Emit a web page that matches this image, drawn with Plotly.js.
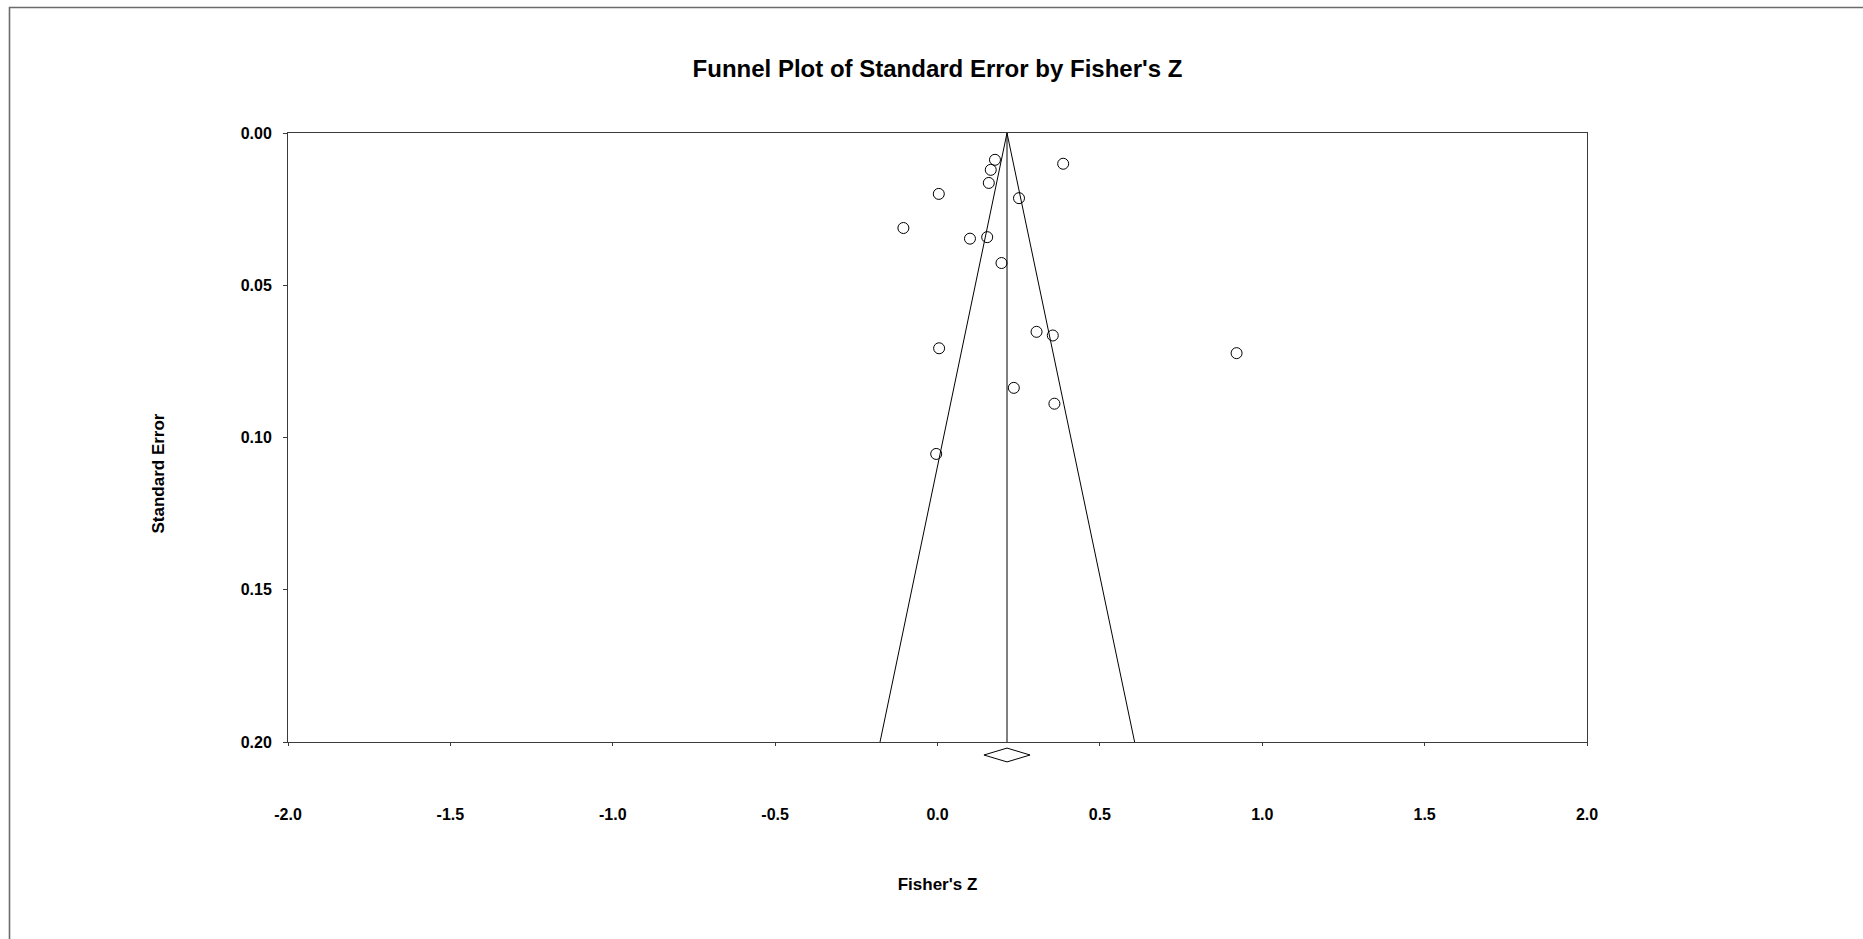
<!DOCTYPE html>
<html>
<head>
<meta charset="utf-8">
<script src="https://cdn.plot.ly/plotly-3.0.1.min.js"></script>
<style>
  html, body { margin: 0; padding: 0; background: #ffffff; }
  #chart { width: 1863px; height: 939px; }
</style>
</head>
<body>
<div id="chart"></div>
<script>
// Study effects (Fisher's Z) and their standard errors
const fisherZ = [0.177, 0.387, 0.164, 0.158, 0.004, 0.251, -0.105, 0.100, 0.153, 0.197, 0.305, 0.355, 0.005, 0.921, 0.235, 0.360, -0.004];
const stdErr  = [0.0088, 0.0101, 0.0121, 0.0164, 0.0200, 0.0214, 0.0312, 0.0347, 0.0342, 0.0427, 0.0653, 0.0665, 0.0707, 0.0723, 0.0837, 0.0889, 0.1054];

// Summary effect and its confidence interval (diamond)
const summaryZ = 0.214;
const summaryLow = 0.143;
const summaryHigh = 0.285;

// Funnel (pseudo 95% limits) end points at SE = 0 and SE = 0.20
const funnelX = [-0.177, 0.214, 0.607];
const funnelY = [0.20, 0.00, 0.20];

// Axis ticks
const xTicks = [-2.0, -1.5, -1.0, -0.5, 0.0, 0.5, 1.0, 1.5, 2.0];
const xTickLabels = ['-2.0', '-1.5', '-1.0', '-0.5', '0.0', '0.5', '1.0', '1.5', '2.0'];
const yTicks = [0.00, 0.05, 0.10, 0.15, 0.20];
const yTickLabels = ['0.00', '0.05', '0.10', '0.15', '0.20'];

const FONT = 'Liberation Sans, Arial, Helvetica, sans-serif';
const INK = '#000000';
const AXIS = '#3a3a3a';

const traces = [
  {
    type: 'scatter', mode: 'lines', x: funnelX, y: funnelY,
    xaxis: 'x', yaxis: 'y',
    line: { color: INK, width: 1 }, hoverinfo: 'skip', showlegend: false
  },
  {
    type: 'scatter', mode: 'lines', x: [summaryZ, summaryZ], y: [yTicks[0], yTicks[yTicks.length - 1]],
    xaxis: 'x', yaxis: 'y',
    line: { color: INK, width: 1 }, hoverinfo: 'skip', showlegend: false
  },
  {
    type: 'scatter', mode: 'markers', x: fisherZ, y: stdErr,
    xaxis: 'x', yaxis: 'y',
    marker: { symbol: 'circle', size: 11, color: 'rgba(0,0,0,0)', line: { color: INK, width: 1 } },
    cliponaxis: false, showlegend: false
  },
  {
    type: 'scatter', mode: 'lines',
    x: [summaryLow, summaryZ, summaryHigh, summaryZ, summaryLow],
    y: [0.5, 0, 0.5, 1, 0.5],
    xaxis: 'x2', yaxis: 'y2',
    fill: 'toself', fillcolor: '#ffffff',
    line: { color: INK, width: 1 }, hoverinfo: 'skip', showlegend: false
  }
];

// geometry (pixels)
const W = 1863, H = 939;
const mL = 288, mR = 276, mT = 133, mB = 169;
const plotW = W - mL - mR, plotH = H - mT - mB;
const axisBottomPx = 742;                  // pixel row of the SE = 0.20 axis line
const yMainLow = (H - mB - axisBottomPx) / plotH;
const dLow = (H - mB - 764) / plotH, dHigh = (H - mB - 746) / plotH;
const px2x = p => (p - mL) / plotW;
const py2y = p => (H - mB - p) / plotH;

const tickFont = { family: FONT, size: 16, color: INK, weight: 'bold' };

const layout = {
  width: W, height: H,
  margin: { l: mL, r: mR, t: mT, b: mB, pad: 0 },
  paper_bgcolor: '#ffffff', plot_bgcolor: 'rgba(0,0,0,0)',
  showlegend: false,
  font: { family: FONT, color: INK },
  title: {
    text: "<b>Funnel Plot of Standard Error by Fisher's Z</b>",
    font: { family: FONT, size: 24, color: INK },
    x: 0.5, xref: 'paper', xanchor: 'center',
    y: 1 - 69 / H, yref: 'container', yanchor: 'middle'
  },
  xaxis: {
    domain: [0, 1], anchor: 'y', range: [-2, 2],
    tickvals: xTicks, ticktext: xTickLabels,
    showline: true, mirror: true, linecolor: AXIS, linewidth: 1,
    ticks: 'outside', ticklen: 3, tickwidth: 1, tickcolor: AXIS,
    ticklabelstandoff: 55,
    tickfont: tickFont,
    showgrid: false, zeroline: false,
    title: { text: "<b>Fisher's Z</b>", font: { family: FONT, size: 17, color: INK }, standoff: 55 }
  },
  xaxis3: {
    overlaying: 'x', anchor: 'y', side: 'bottom', range: [-2, 2],
    tickvals: xTicks, showticklabels: false,
    ticks: 'inside', ticklen: 3, tickwidth: 1, tickcolor: AXIS,
    showline: false, showgrid: false, zeroline: false
  },
  yaxis: {
    domain: [yMainLow, 1], anchor: 'x', range: [0.2, 0],
    tickvals: yTicks, ticktext: yTickLabels,
    showline: true, mirror: true, linecolor: AXIS, linewidth: 1,
    ticks: 'outside', ticklen: 4, tickwidth: 1, tickcolor: AXIS,
    ticklabelstandoff: 8,
    tickfont: tickFont,
    showgrid: false, zeroline: false
  },
  xaxis2: { matches: 'x', anchor: 'y2', visible: false, domain: [0, 1] },
  yaxis2: { domain: [dLow, dHigh], anchor: 'x2', range: [1.15, -0.15], visible: false },
  annotations: [
    {
      text: '<b>Standard Error</b>', textangle: -90, showarrow: false,
      xref: 'paper', yref: 'paper', x: px2x(158), y: py2y(473.5),
      xanchor: 'center', yanchor: 'middle',
      font: { family: FONT, size: 17, color: INK }
    }
  ],
  shapes: [
    {
      type: 'path', xref: 'paper', yref: 'paper',
      path: 'M ' + px2x(9.5) + ',' + py2y(H + 2) + ' L ' + px2x(9.5) + ',' + py2y(7.5) + ' L ' + px2x(W + 2) + ',' + py2y(7.5),
      line: { color: '#6b6b6b', width: 1.6 }
    }
  ]
};

Plotly.newPlot('chart', traces, layout, { displayModeBar: false, staticPlot: true });
</script>
</body>
</html>
